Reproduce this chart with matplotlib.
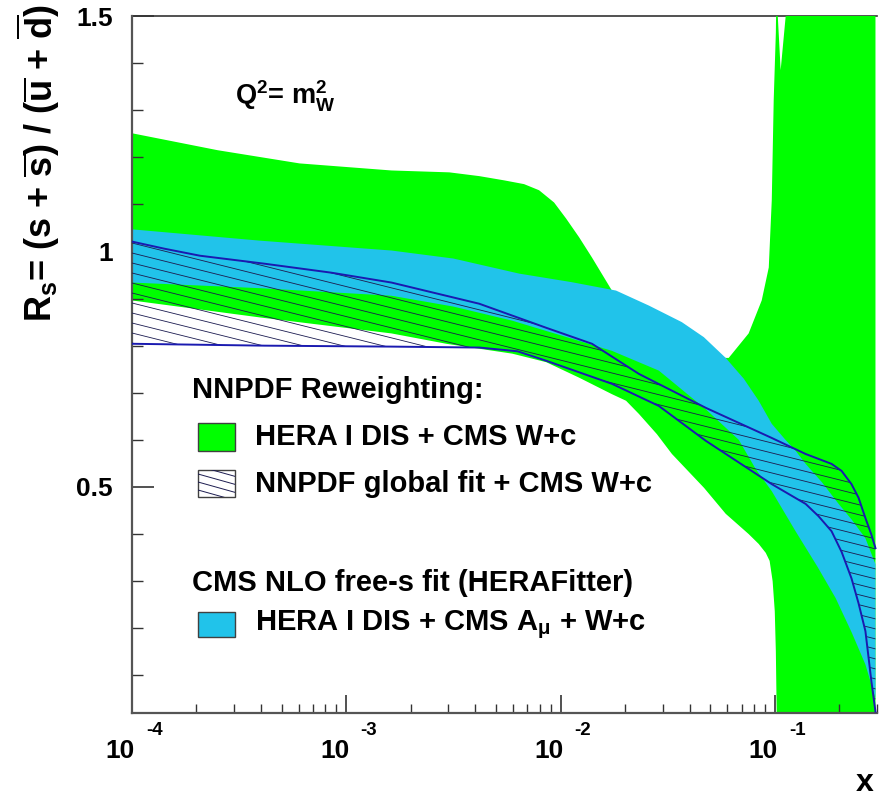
import numpy as np
import matplotlib
matplotlib.use('Agg')
import matplotlib.pyplot as plt
from matplotlib.patches import Rectangle
from matplotlib.transforms import blended_transform_factory, ScaledTranslation

plt.rcParams['font.family'] = ['Liberation Sans', 'DejaVu Sans']
plt.rcParams['font.weight'] = 'bold'
plt.rcParams['mathtext.fontset'] = 'custom'
plt.rcParams['mathtext.rm'] = 'Liberation Sans:bold'
plt.rcParams['mathtext.it'] = 'Liberation Sans:bold'
plt.rcParams['mathtext.bf'] = 'Liberation Sans:bold'
plt.rcParams['mathtext.sf'] = 'Liberation Sans:bold'

##############################################################################
# values (log10 x, R_s)
##############################################################################

# HERA I DIS + CMS W+c (NNPDF reweighting), green
green_up_lx = [-4.0, -3.6, -3.218, -2.789, -2.519, -2.379, -2.263, -2.170, -2.100,
               -2.030, -1.974, -1.913, -1.853, -1.760, -1.68, -1.587, -1.46, -1.354,
               -1.229, -1.215, -1.122, -1.061, -1.028, -1.014, -1.005, -0.995,
               -0.991, -0.986, -0.9725, -0.949, -0.94, -0.90, -0.53]
green_up_y = [1.251, 1.215, 1.187, 1.172, 1.168, 1.160, 1.151, 1.143, 1.130,
              1.104, 1.070, 1.030, 0.987, 0.917, 0.870, 0.832, 0.800, 0.785,
              0.774, 0.774, 0.826, 0.896, 0.966, 1.109, 1.321, 1.464,
              1.6, 1.5, 1.385, 1.5, 1.6, 2.0, 2.0]
green_lo_lx = [-4.0, -3.404, -2.789, -2.533, -2.225, -2.067, -1.913, -1.760, -1.694,
               -1.634, -1.55, -1.480, -1.33, -1.229, -1.122, -1.075, -1.042, -1.024,
               -1.010, -1.0, -0.995, -0.991, -0.985, -0.53]
green_lo_y = [0.896, 0.860, 0.826, 0.804, 0.783, 0.765, 0.732, 0.697, 0.683,
              0.655, 0.612, 0.570, 0.498, 0.443, 0.400, 0.379, 0.360, 0.343,
              0.300, 0.236, 0.151, 0.02, -0.5, -0.5]

# HERA I DIS + CMS A_mu + W+c (HERAFitter), cyan
cyan_up_lx = [-4.0, -3.404, -2.789, -2.5, -2.193, -1.95, -1.741, -1.587, -1.434,
              -1.331, -1.229, -1.145, -1.075, -1.014, -0.95, -0.903, -0.856, -0.78,
              -0.702, -0.64, -0.577, -0.53]
cyan_up_y = [1.047, 1.023, 1.002, 0.985, 0.953, 0.935, 0.917, 0.885, 0.850,
             0.818, 0.774, 0.730, 0.683, 0.634, 0.600, 0.577, 0.549, 0.510,
             0.464, 0.430, 0.391, 0.336]
cyan_lo_lx = [-4.0, -3.4, -2.789, -2.5, -2.225, -1.760, -1.541, -1.322, -1.168,
              -1.089, -1.014, -0.903, -0.80, -0.716, -0.64, -0.577, -0.53]
cyan_lo_y = [0.934, 0.922, 0.906, 0.883, 0.853, 0.789, 0.747, 0.665, 0.600,
             0.538, 0.491, 0.406, 0.330, 0.264, 0.190, 0.123, 0.051]

# NNPDF global fit + CMS W+c, hatched
hatch_up_lx = [-4.0, -3.85, -3.683, -3.381, -3.07, -2.789, -2.379, -2.067, -1.853,
               -1.634, -1.322, -1.014, -0.856, -0.735, -0.688, -0.642, -0.609,
               -0.577, -0.55, -0.53]
hatch_up_y = [1.021, 1.006, 0.991, 0.974, 0.955, 0.934, 0.889, 0.838, 0.804,
              0.740, 0.668, 0.604, 0.570, 0.549, 0.534, 0.506, 0.477,
              0.434, 0.400, 0.370]
hatch_lo_lx = [-4.0, -3.381, -2.789, -2.379, -2.2, -2.067, -1.760, -1.541, -1.322,
               -1.014, -0.856, -0.796, -0.735, -0.688, -0.642, -0.609, -0.577,
               -0.549, -0.53]
hatch_lo_y = [0.804, 0.800, 0.798, 0.796, 0.788, 0.768, 0.719, 0.672, 0.598,
              0.506, 0.464, 0.438, 0.406, 0.362, 0.306, 0.253, 0.194,
              0.087, 0.023]

decades = [-4, -3, -2, -1]
y_major = [0.5, 1.0, 1.5]
y_major_labels = ['0.5', '1', '1.5']

legend_head_1 = 'NNPDF Reweighting:'
legend_head_2 = 'CMS NLO free-s fit (HERAFitter)'
legend_green = 'HERA I DIS + CMS W+c'
legend_hatch = 'NNPDF global fit + CMS W+c'
legend_cyan = r'HERA I DIS + CMS A$_{\mu}$ + W+c'

GREEN = '#00ff00'
CYAN = '#21c3ea'
EDGE = '#1a1ab0'
HATCH = '#1c1c50'

##############################################################################

W, H = 892, 797
fig = plt.figure(figsize=(W / 100, H / 100), dpi=100)
ax = fig.add_axes([132 / W, 1 - 713 / H, (877 - 132) / W, (713 - 16) / H])
ax.set_xscale('log')
ax.set_xlim(1e-4, 0.3)
ax.set_ylim(0.02, 1.5)


def band_xy(up_lx, up_y, lo_lx, lo_y):
    xs = np.concatenate([10 ** np.array(up_lx), 10 ** np.array(lo_lx)[::-1]])
    ys = np.concatenate([np.array(up_y), np.array(lo_y)[::-1]])
    return xs, ys


gx, gy = band_xy(green_up_lx, green_up_y, green_lo_lx, green_lo_y)
ax.fill(gx, gy, facecolor=GREEN, edgecolor='none', zorder=1)

cx, cy = band_xy(cyan_up_lx, cyan_up_y, cyan_lo_lx, cyan_lo_y)
ax.fill(cx, cy, facecolor=CYAN, edgecolor='none', zorder=2)

hx, hy = band_xy(hatch_up_lx, hatch_up_y, hatch_lo_lx, hatch_lo_y)
hpatch = ax.fill(hx, hy, facecolor='none', edgecolor='none', zorder=3)[0]

# shallow hatching, drawn in axes coords and clipped to the band
ax_w, ax_h = 877 - 132, 713 - 16
k = 0.25 * ax_w / ax_h
for c in np.arange(0, 1 + k + 0.02, 10 / ax_h):
    ln, = ax.plot([0, 1], [c, c - k], transform=ax.transAxes, color=HATCH,
                  lw=0.6, zorder=3)
    ln.set_clip_path(hpatch)

ax.plot(10 ** np.array(hatch_up_lx), hatch_up_y, color=EDGE, lw=1.4, zorder=4)
ax.plot(10 ** np.array(hatch_lo_lx), hatch_lo_y, color=EDGE, lw=1.4, zorder=4)

# axes styling
for s in ['left', 'bottom']:
    ax.spines[s].set_color('#555555')
    ax.spines[s].set_linewidth(1.6)
ax.spines['top'].set_color('#333333')
ax.spines['top'].set_linewidth(1.2)
ax.spines['top'].set_zorder(0.5)
ax.spines['right'].set_visible(False)

ax.set_xticks([10.0 ** d for d in decades])
ax.xaxis.set_minor_locator(matplotlib.ticker.LogLocator(base=10, subs=np.arange(2, 10)))
ax.xaxis.set_minor_formatter(matplotlib.ticker.NullFormatter())
ax.tick_params(axis='x', which='major', direction='in', length=13, width=1.2,
               color='#333333', labelbottom=False)
ax.tick_params(axis='x', which='minor', direction='in', length=6.5, width=1.0,
               color='#333333')

ax.set_yticks(y_major, y_major_labels)
ax.set_yticks(np.arange(0.1, 1.5, 0.1), minor=True)
ax.tick_params(axis='y', which='major', direction='in', length=16, width=1.2,
               color='#333333', labelsize=19, pad=14)
ax.tick_params(axis='y', which='minor', direction='in', length=8, width=1.0,
               color='#333333')

# ROOT style x labels: "10" with a raised exponent
trans = blended_transform_factory(ax.transData, fig.transFigure)
for d in decades:
    ax.text(10.0 ** d, 1 - 758 / H, '10', fontsize=19, ha='right', va='baseline',
            transform=trans + ScaledTranslation(0.03, 0, fig.dpi_scale_trans),
            clip_on=False)
    ax.text(10.0 ** d, 1 - 735 / H, '-%d' % abs(d), fontsize=13.5, ha='left',
            va='baseline',
            transform=trans + ScaledTranslation(0.14, 0, fig.dpi_scale_trans),
            clip_on=False)

fig.text(874 / W, 1 - 791 / H, 'x', fontsize=23, ha='right', va='baseline')
fig.text(38 / W, 1 - 163 / H,
         r'R$_{s}$= (s + $\overline{s}$) / ($\overline{u}$ + $\overline{d}$)',
         fontsize=26, rotation=90, ha='center', va='center')

fig.text(235 / W, 1 - 105 / H, r'Q$^{2}$= m$_{W}^{2}$', fontsize=19.5,
         ha='left', va='baseline')

# legend drawn by hand
fs = 21
fig.text(192 / W, 1 - 390 / H, legend_head_1, fontsize=fs, ha='left', va='center')
fig.text(192 / W, 1 - 583 / H, legend_head_2, fontsize=fs, ha='left', va='center')


def box(y0, y1, face):
    r = Rectangle((198 / W, 1 - y1 / H), 37 / W, (y1 - y0) / H, transform=fig.transFigure,
                  facecolor=face, edgecolor='#404040', lw=1.0, zorder=5)
    fig.add_artist(r)
    return r


box(423, 451, GREEN)
fig.text(255 / W, 1 - 437 / H, legend_green, fontsize=fs, ha='left', va='center')

hb = box(470, 497, 'white')
for c in np.arange(-12, 28, 8):
    ln = plt.Line2D([198 / W, 235 / W], [1 - (470 + c) / H, 1 - (470 + c + 37 * 0.28) / H],
                    transform=fig.transFigure, color=HATCH, lw=0.7, zorder=6)
    ln.set_clip_path(hb)
    fig.add_artist(ln)
fig.text(255 / W, 1 - 484 / H, legend_hatch, fontsize=fs, ha='left', va='center')

box(612, 637, CYAN)
fig.text(255 / W, 1 - 625 / H, legend_cyan, fontsize=fs, ha='left', va='center')

fig.savefig('out.png', dpi=100)
